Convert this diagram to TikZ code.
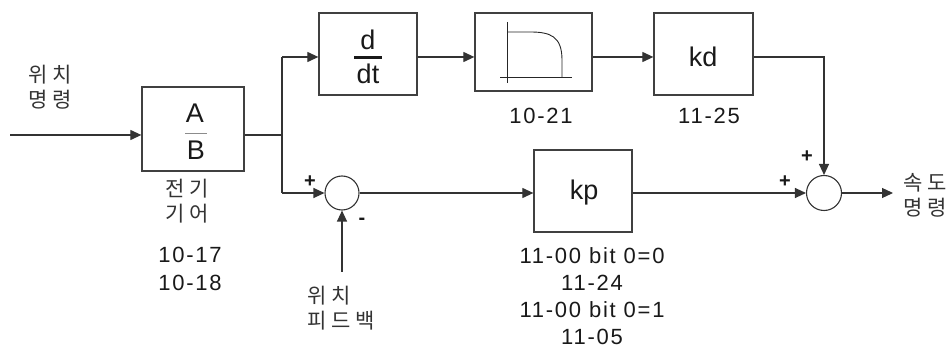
\documentclass[tikz,border=0pt]{standalone}
\usepackage{fontspec}
\setmainfont{Liberation Sans}
\newfontfamily\kr{Noto Sans CJK KR}
\newfontfamily\lab{Liberation Sans}[LetterSpace=8]
\usetikzlibrary{arrows.meta}
\tikzset{
  wire/.style={line width=1.2pt, draw=black!80},
  arr/.style={wire, -{Triangle[length=11pt,width=10pt]}},
  blk/.style={draw=black!75, line width=1.3pt, rectangle, inner sep=0pt},
  sumc/.style={draw=black!80, line width=1.1pt, circle, inner sep=0pt, minimum size=34pt},
  krtext/.style={font=\kr\fontsize{21}{25}\selectfont, text=black!80, align=left, inner sep=0pt},
  numtext/.style={font=\lab\fontsize{22}{28}\selectfont, text=black!90, align=center, inner sep=0pt},
  bigtext/.style={font=\fontsize{27}{30}\selectfont, text=black!90, inner sep=0pt},
  signtext/.style={font=\fontsize{20}{20}\selectfont\bfseries, text=black!90, inner sep=0pt}
}
\begin{document}
\begin{tikzpicture}[x=1pt,y=-1pt]
\useasboundingbox (0,0) rectangle (952,352);
% blocks
\node[blk, minimum width=102pt, minimum height=84pt] (ab) at (193,129) {};
\node[blk, minimum width=98pt, minimum height=82pt] (ddt) at (368,54) {};
\node[blk, minimum width=117pt, minimum height=78pt] (filt) at (533.5,52) {};
\node[blk, minimum width=99pt, minimum height=82pt] (kd) at (703.5,54) {};
\node[blk, minimum width=98pt, minimum height=82pt] (kp) at (583,191) {};
\node[sumc] (sumL) at (342,193) {};
\node[sumc, minimum size=35pt] (sumR) at (824,193) {};
% block contents
\node[bigtext] (A) at (195,113) {A};
\node[bigtext] (B) at (196,150) {B};
\draw[draw=black!45, line width=0.8pt] (185,133) -- (207,133);
\node[bigtext] (d) at (368,40) {d};
\draw[line width=3pt, black!90] (354,58) -- (382,58);
\node[bigtext] (dt) at (368,74) {dt};
\node[bigtext] (kdt) at (703,57) {kd};
\node[bigtext] (kpt) at (584,193) {kp};
% filter curve
\draw[black!85, line width=0.9pt] (507,22) -- (507,83);
\draw[black!85, line width=0.9pt] (500,77) -- (572,77);
\draw[black!85, line width=0.9pt] (507,32) -- (530,32) .. controls (550,32) and (562,36) .. (562,60) -- (562,77);
% coordinates
\coordinate (in) at (10,135);
\coordinate (j) at (282,135);
\coordinate (top) at (282,57);
\coordinate (bot) at (282,193);
\coordinate (fb) at (342,272);
\coordinate (out) at (893,193);
% connectors
\draw[arr] (in) -- (in -| ab.west);
\draw[wire] (ab.east |- j) -- (j);
\draw[wire] (top) -- (bot);
\draw[arr] (top) -- (top -| ddt.west);
\draw[arr] (ddt.east |- top) -- (filt.west |- top);
\draw[arr] (filt.east |- top) -- (kd.west |- top);
\draw[arr] (kd.east |- top) -| (sumR.north);
\draw[arr] (bot) -- (sumL.west);
\draw[arr] (fb) -- (sumL.south);
\draw[arr] (sumL.east) -- (kp.west |- sumL.east);
\draw[arr] (kp.east |- sumR.west) -- (sumR.west);
\draw[arr] (sumR.east) -- (out);
% signs
\node[signtext] (p1) at (310,182) {+};
\node[signtext] (m1) at (362,221) {-};
\node[signtext] (p2) at (807,157) {+};
\node[signtext] (p3) at (785,182) {+};
% korean labels
\node[krtext, anchor=west] (cmd) at (28,87) {위\hspace{5pt}치\\명\hspace{5pt}령};
\node[krtext, anchor=west] (gear) at (165,201) {전\hspace{5pt}기\\기\hspace{5pt}어};
\node[krtext, anchor=west] (fbk) at (307,308) {위\hspace{5pt}치\\피\hspace{5pt}드\hspace{5pt}백};
\node[krtext, anchor=west] (spd) at (903,195) {속\hspace{5pt}도\\명\hspace{5pt}령};
% numeric labels
\node[numtext] (n1) at (190,269) {10-17\\10-18};
\node[numtext] (n2) at (541,116) {10-21};
\node[numtext] (n3) at (709,116) {11-25};
\node[numtext, font=\lab\fontsize{22}{27}\selectfont] (n4) at (592,296) {11-00 bit 0=0\\11-24\\11-00 bit 0=1\\11-05};
\end{tikzpicture}
\end{document}
